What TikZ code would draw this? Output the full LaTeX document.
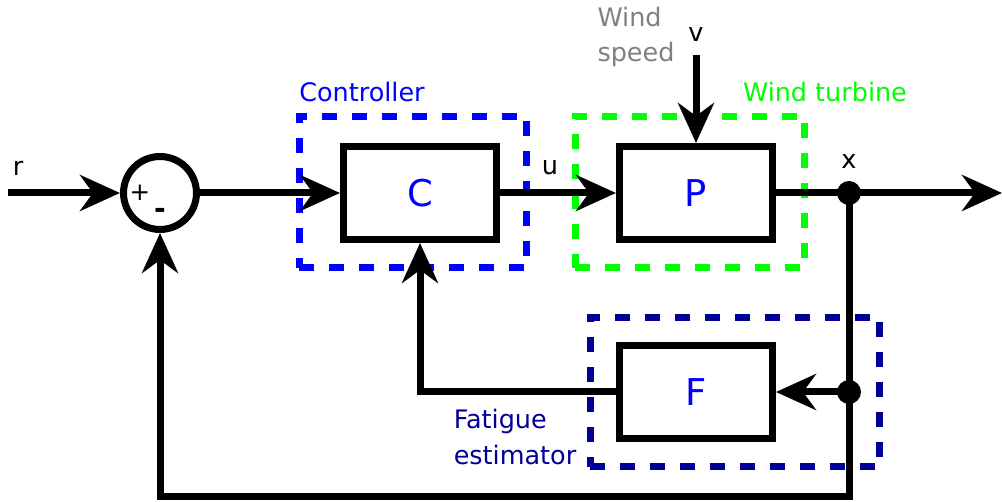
\documentclass[tikz,border=0pt]{standalone}
\usepackage{fontspec}
\setmainfont{DejaVu Sans}
\usetikzlibrary{arrows.meta,positioning}
\definecolor{ctrlblue}{RGB}{0,0,255}
\definecolor{turbgreen}{RGB}{0,255,0}
\definecolor{fatblue}{RGB}{0,0,153}
\definecolor{windgray}{RGB}{128,128,128}

\begin{document}
\begin{tikzpicture}[x=0.02cm, y=-0.02cm,
  blk/.style={rectangle, draw, line width=0.14cm, fill=white,
              minimum width=3.06cm, minimum height=1.86cm,
              font=\fontsize{21}{25}\selectfont, text=ctrlblue},
  grp/.style={rectangle, draw, line width=0.14cm,
              dash pattern=on 0.3cm off 0.3cm},
  sig/.style={line width=0.14cm, -{Stealth[length=0.8cm,width=0.72cm,inset=0.26cm]}},
  dot/.style={circle, fill, inner sep=0pt, minimum size=0.48cm},
  lbl/.style={font=\fontsize{14.5}{20}\selectfont, align=left}
]
\useasboundingbox (0,0) rectangle (1002,502);

% Group boxes
\node[grp, draw=ctrlblue,  minimum width=4.56cm, minimum height=3.04cm] (ctrlgrp) at (413,192) {};
\node[grp, draw=turbgreen, minimum width=4.6cm,  minimum height=3.04cm] (turbgrp) at (690,192) {};
\node[grp, draw=fatblue,   minimum width=5.8cm,  minimum height=3.0cm]  (fatgrp)  at (735,392) {};

% Blocks
\node[circle, draw, line width=0.14cm, minimum size=1.46cm] (sum) at (160,193) {};
\node[blk] (C) at (420,193) {C};
\node[blk] (P) at (696,193) {P};
\node[blk] (F) at (696,392) {F};
\node[dot] (xdot) at (849,193) {};
\node[dot] (fdot) at (849,392) {};
\coordinate (rin)  at (8,193);
\coordinate (yout) at (1002,193);
\coordinate (vin)  at (696,55);
\coordinate (bot)  at (849,497);

% Signals
\draw[sig] (rin) -- (sum.west);
\draw[sig] (sum.east) -- (C.west);
\draw[sig] (C.east) -- (P.west);
\draw[sig] (vin) -- (P.north);
\draw[sig] (P.east) -- (yout);
\draw[sig] (xdot.center) -- (bot) -| (sum.south);
\draw[sig] (fdot.center) -- (F.east);
\draw[sig] (F.west) -| (C.south);

% Labels
\node[lbl] (rlbl) at (18,168) {r};
\node[lbl] (ulbl) at (550,168) {u};
\node[lbl] (xlbl) at (849,162) {x};
\node[lbl] (vlbl) at (696,35) {v};
\node[font=\fontsize{14}{16}\selectfont] (plus) at (140,193) {+};
\node[font=\fontsize{16}{18}\selectfont\bfseries] (minus) at (160,213) {-};
\node[lbl, text=ctrlblue]  (ctrllbl) at (362,92) {Controller};
\node[lbl, text=turbgreen] (turblbl) at (825,92) {Wind turbine};
\node[lbl, text=windgray]  (windlbl) at (636,37) {Wind\\speed};
\node[lbl, text=fatblue]   (fatlbl)  at (515,437) {Fatigue\\estimator};
\end{tikzpicture}
\end{document}
